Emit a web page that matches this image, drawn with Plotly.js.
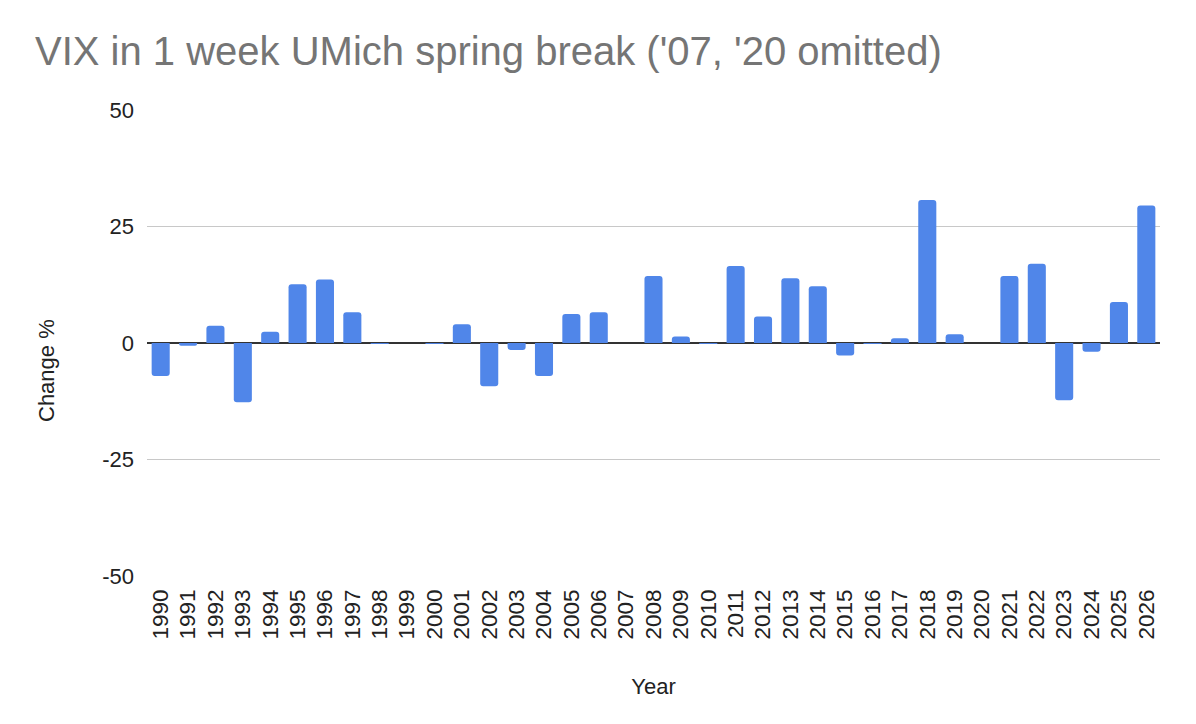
<!DOCTYPE html>
<html>
<head>
<meta charset="utf-8">
<script src="https://cdn.plot.ly/plotly-3.0.1.min.js"></script>
<style>html,body{margin:0;padding:0;background:#fff;}#chart{width:1196px;height:724px;}</style>
</head>
<body>
<div id="chart"></div>
<script>
const years = ["1990","1991","1992","1993","1994","1995","1996","1997","1998","1999",
  "2000","2001","2002","2003","2004","2005","2006","2007","2008","2009",
  "2010","2011","2012","2013","2014","2015","2016","2017","2018","2019",
  "2020","2021","2022","2023","2024","2025","2026"];
const changePct = [-7.1,-0.6,3.7,-12.7,2.4,12.6,13.6,6.6,-0.2,null,
  -0.2,4.0,-9.3,-1.5,-7.1,6.2,6.6,null,14.4,1.4,
  -0.2,16.5,5.7,13.9,12.2,-2.7,-0.2,1.0,30.7,1.9,
  null,14.4,17.0,-12.3,-1.9,8.8,29.5];
const yTicks = [-50,-25,0,25,50];

const font = "'Liberation Sans', Arial, sans-serif";
Plotly.newPlot('chart', [{
  type: 'bar',
  x: years,
  y: changePct,
  marker: {color: '#5086e9', cornerradius: 3},
  hoverinfo: 'x+y'
}], {
  width: 1196, height: 724,
  margin: {l: 147, r: 36, t: 110, b: 148},
  paper_bgcolor: '#fff', plot_bgcolor: '#fff',
  bargap: 0.34,
  showlegend: false,
  font: {family: font, color: '#222', size: 22},
  title: {text: "VIX in 1 week UMich spring break ('07, '20 omitted)",
    font: {family: font, size: 40, color: '#757575'},
    x: 35/1196, xref: 'container', xanchor: 'left',
    y: 1 - 51/724, yref: 'container', yanchor: 'middle'},
  xaxis: {type: 'category', tickmode: 'array', tickvals: years, ticktext: years,
    tickangle: -90, tickfont: {size: 22.5, color: '#222'},
    showgrid: false, ticks: '', ticklen: 0, ticklabelstandoff: 8, automargin: false,
    title: {text: 'Year', font: {size: 22, color: '#222'}, standoff: 40}},
  yaxis: {range: [-50, 50], tickvals: yTicks, ticktext: yTicks.map(String),
    tickfont: {size: 22, color: '#222'}, showgrid: true, gridcolor: '#c8c8c8', gridwidth: 1.5,
    zeroline: true, zerolinecolor: '#333333', zerolinewidth: 2,
    ticks: '', ticklabelstandoff: 12, automargin: false, fixedrange: true},
  annotations: [{text: 'Change %', textangle: -90, showarrow: false,
    xref: 'paper', yref: 'paper', x: (46 - 147) / (1196 - 147 - 36), xanchor: 'center',
    y: (576 - 371) / (576 - 110), yanchor: 'middle',
    font: {family: font, size: 22, color: '#222'}}]
}, {displayModeBar: false, staticPlot: true});
</script>
</body>
</html>
